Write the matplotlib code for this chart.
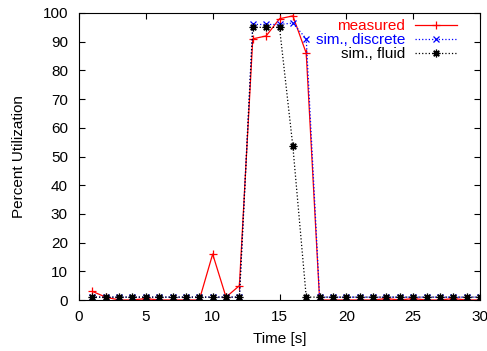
import matplotlib
matplotlib.use('Agg')
import matplotlib.pyplot as plt

plt.rcParams['font.family'] = ['Liberation Sans', 'DejaVu Sans']
plt.rcParams['font.size'] = 11

time_s = list(range(1, 31))
measured = [3, 1, 0, 0, 0.5, 0, 0, 0, 0, 16, 1, 5, 91, 92, 98, 99, 86, 0,
            0, 0, 0, 0, 0.5, 0, 0.5, 0, 0, 0.5, 0, 0]
sim_discrete = [1, 1, 1, 1, 1, 1, 1, 1, 1, 1, 1, 1, 96, 96, 96, 96.5, 91, 1,
                1, 1, 1, 1, 1, 1, 1, 1, 1, 1, 1, 1]
sim_fluid = [1, 1, 1, 1, 1, 1, 1, 1, 1, 1, 1, 1, 95, 95, 95, 53.5, 1, 1,
             1, 1, 1, 1, 1, 1, 1, 1, 1, 1, 1, 1]

fig = plt.figure(figsize=(4.87, 3.51), dpi=100)
ax = fig.add_axes([79 / 487, 1 - 300 / 351, (480 - 79) / 487, (300 - 13) / 351])

ax.plot(time_s, measured, color='red', linestyle='-', linewidth=0.9,
        marker='+', markersize=6, markeredgewidth=0.9, label='measured')
ax.plot(time_s, sim_discrete, color='blue', linestyle=':', linewidth=0.9,
        marker='x', markersize=5, markeredgewidth=0.9, label='sim., discrete')
ax.plot(time_s, sim_fluid, color='black', linestyle=':', linewidth=0.9,
        marker=(8, 2, 0), markersize=5.5, markeredgewidth=0.9, label='sim., fluid')

ax.set_xlim(0, 30)
ax.set_ylim(0, 100)
ax.set_xticks(range(0, 31, 5))
ax.set_yticks(range(0, 101, 10))
ax.tick_params(direction='in', top=True, right=True, length=4)
ax.tick_params(axis='y', pad=8)
ax.tick_params(axis='x', pad=7)
ax.set_xlabel('Time [s]')
ax.set_ylabel('Percent Utilization')
ax.xaxis.set_label_coords(0.5, -0.112)
ax.yaxis.set_label_coords(-0.132, 0.5)

leg = ax.legend(loc='upper right', bbox_to_anchor=(0.943, 0.978),
                frameon=False, markerfirst=False, handlelength=2.75,
                handletextpad=0.65, labelspacing=0.0, borderaxespad=0,
                borderpad=0, labelcolor=['red', 'blue', 'black'])
for t in leg.get_texts():
    t.set_ha('right')

fig.savefig('out.png', dpi=100)
